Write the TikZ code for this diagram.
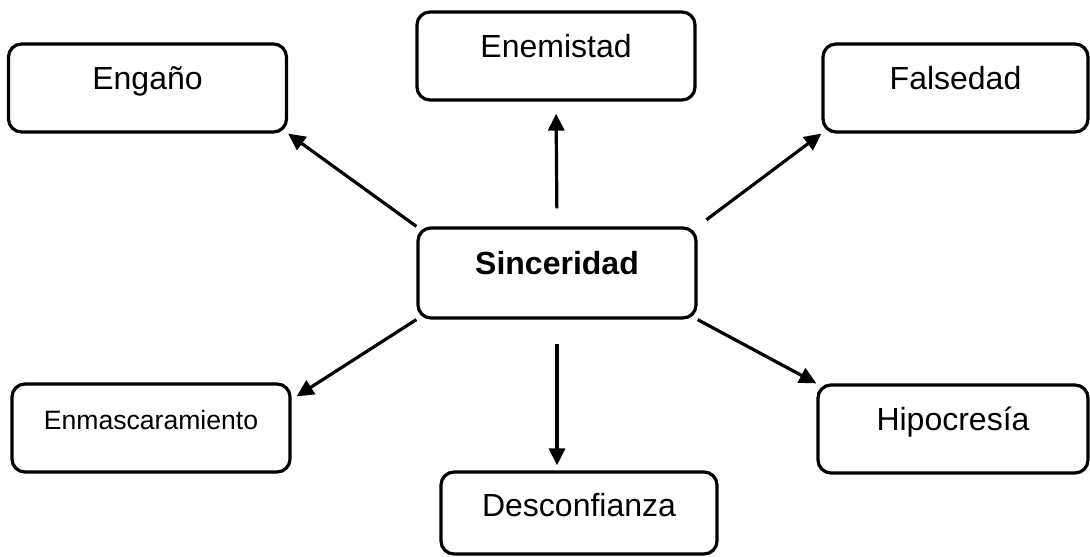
\documentclass[tikz,border=0pt]{standalone}
\usepackage{fontspec}
\setmainfont{Liberation Sans}
\usetikzlibrary{arrows.meta}

\begin{document}
\begin{tikzpicture}[x=0.5pt, y=0.5pt]
% Define styles
\tikzstyle{concept} = [rectangle, rounded corners=6.5pt, minimum width=139pt, minimum height=44pt, align=center, draw=black, line width=1.6pt, font=\fontsize{16}{19}\selectfont, text height=11.5pt, text depth=9.5pt]
\tikzstyle{arrow} = [line width=1.6pt, -{Triangle[length=8.5pt,width=8pt]}]
\useasboundingbox (0,0) rectangle (1090,556);
% Place nodes
\node (sinc) [concept, minimum height=45pt, font=\bfseries\fontsize{16}{19}\selectfont] at (557,283) {Sinceridad};
\node (engano) [concept] at (147.5,468) {Engaño};
\node (enem) [concept] at (556,500) {Enemistad};
\node (fals) [concept, minimum width=132.5pt] at (955.5,468) {Falsedad};
\node (enmasc) [concept, font=\fontsize{13.3}{16}\selectfont] at (151,128) {Enmascaramiento};
\node (hipo) [concept, minimum width=135pt] at (953,127) {Hipocresía};
\node (desc) [concept, minimum width=138pt, minimum height=41pt, text depth=8pt] at (579,43) {Desconfianza};
\coordinate (enmtip) at ([xshift=2.5pt, yshift=-7pt]enmasc.north east);
% Draw arrows
\draw [arrow] (sinc.north west) -- (engano.south east);
\draw [arrow, shorten <=9pt, shorten >=6pt] (sinc.north) -- (enem.south);
\draw [arrow, shorten <=5.5pt] (sinc.north east) -- (fals.south west);
\draw [arrow] (sinc.south west) -- (enmtip);
\draw [arrow, shorten <=12pt, shorten >=2.5pt] (sinc.south) -- (sinc.south |- desc.north);
\draw [arrow] (sinc.south east) -- (hipo.north west);
\end{tikzpicture}
\end{document}
